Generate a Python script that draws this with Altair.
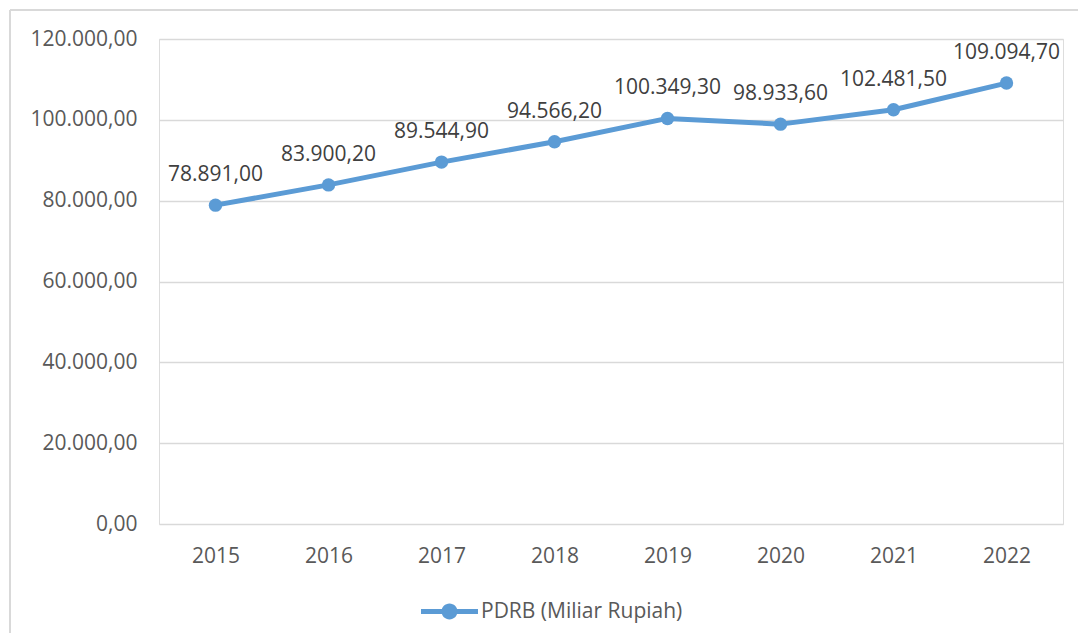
import altair as alt
import pandas as pd

years = ["2015", "2016", "2017", "2018", "2019", "2020", "2021", "2022"]
pdrb = [78891.00, 83900.20, 89544.90, 94566.20, 100349.30, 98933.60, 102481.50, 109094.70]
series_name = "PDRB (Miliar Rupiah)"
y_ticks = [0, 20000, 40000, 60000, 80000, 100000, 120000]


def id_format(v):
    s = f"{v:,.2f}"
    return s.replace(",", "_").replace(".", ",").replace("_", ".")


df = pd.DataFrame({
    "year": years,
    "value": pdrb,
    "label": [id_format(v) for v in pdrb],
    "series": [series_name] * len(years),
})

BLUE = "#5B9BD5"
TEXT = "#595959"
FONT = "Open Sans"
W, H = 904, 485
PAD_L, PAD_T, PAD_R, PAD_B = 151, 31, 15, 109

x_enc = alt.X("year:O", scale=alt.Scale(type="point", padding=0.5),
              axis=alt.Axis(title=None, labelAngle=0, domain=False, ticks=False,
                            labelPadding=21, labelFontSize=21, labelColor=TEXT,
                            labelFont=FONT, grid=False))
y_enc = alt.Y("value:Q", scale=alt.Scale(domain=[0, 120000], nice=False),
              axis=alt.Axis(title=None, values=y_ticks, domain=False, ticks=False,
                            labelPadding=22, labelFontSize=21, labelColor=TEXT,
                            labelFont=FONT, grid=True, gridColor="#D9D9D9",
                            gridWidth=1.5,
                            labelExpr="replace(replace(replace(format(datum.value, ',.2f'), ',', '_'), '.', ','), '_', '.')"))

base = alt.Chart(df)

line = base.mark_line(color=BLUE, strokeWidth=5, strokeCap="round", strokeJoin="round").encode(
    x=x_enc, y=y_enc)

r = 0.28
t = 0.09
sym_path = (f"M-1,-{t} L1,-{t} L1,{t} L-1,{t} Z "
            f"M{r},0 A{r},{r} 0 1,1 -{r},0 A{r},{r} 0 1,1 {r},0 Z")

points = base.mark_point(filled=True, size=180, opacity=1).encode(
    x=x_enc, y=y_enc,
    color=alt.Color("series:N",
                    scale=alt.Scale(domain=[series_name], range=[BLUE]),
                    legend=alt.Legend(title=None, orient="none", legendX=262, legendY=544,
                                      symbolType=sym_path, symbolSize=3249,
                                      symbolStrokeWidth=0, symbolOpacity=1,
                                      labelFontSize=21, labelFont=FONT, labelColor=TEXT,
                                      labelOffset=3, labelLimit=500, padding=0)))

labels = base.mark_text(fontSize=21, font=FONT, color="#404040", baseline="alphabetic",
                        align="center", dy=-24).encode(
    x=x_enc, y=y_enc, text="label:N")

border_top = alt.Chart(df).mark_rule(color="#D9D9D9", strokeWidth=2).encode(
    x=alt.value(-PAD_L + 2), x2=alt.value(W + PAD_R), y=alt.value(-PAD_T + 2))
border_left = alt.Chart(df).mark_rule(color="#D9D9D9", strokeWidth=2).encode(
    x=alt.value(-PAD_L + 2), y=alt.value(-PAD_T + 2), y2=alt.value(H + PAD_B))

chart = alt.layer(border_top, border_left, line, points, labels).properties(
    width=W, height=H,
    autosize=alt.AutoSizeParams(type="none"),
    padding={"left": PAD_L, "top": PAD_T, "right": PAD_R, "bottom": PAD_B},
).configure_view(stroke=None).configure(background="white")

chart.save("out.html", embed_options={"renderer": "svg", "actions": False})
